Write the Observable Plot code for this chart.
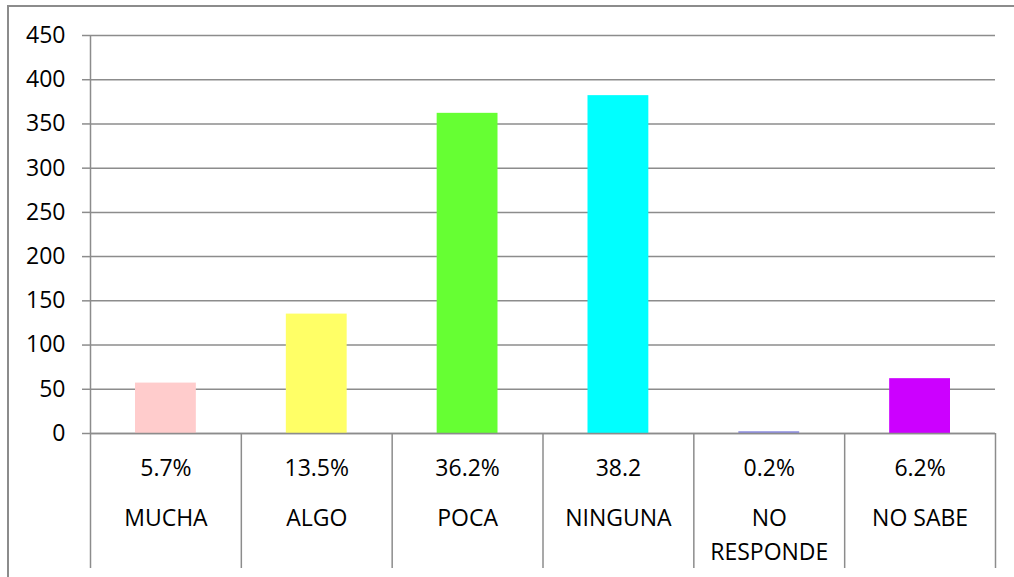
<!DOCTYPE html>
<html>
<head>
<meta charset="utf-8">
<script src="https://cdn.jsdelivr.net/npm/d3@7"></script>
<script src="https://cdn.jsdelivr.net/npm/@observablehq/plot@0.6"></script>
<style>
  html, body { margin: 0; padding: 0; background: #fff; overflow: hidden; }
  #wrap { position: relative; width: 1014px; height: 577px; }
  #frame { position: absolute; left: 7px; top: 5px; width: 1100px; height: 700px; border: 2px solid #8c8c8c; box-sizing: border-box; }
  #chart { position: absolute; left: 0; top: 0; }
</style>
</head>
<body>
<div id="wrap"><div id="frame"></div><div id="chart"></div></div>
<script>
const categories = ["MUCHA", "ALGO", "POCA", "NINGUNA", "NO\nRESPONDE", "NO SABE"];
const values = [57, 135, 362, 382, 2, 62];
const percentLabels = ["5.7%", "13.5%", "36.2%", "38.2", "0.2%", "6.2%"];
const colors = ["#ffcccc", "#ffff66", "#66ff33", "#00ffff", "#8f8fe0", "#cc00ff"];
const yTicks = [0, 50, 100, 150, 200, 250, 300, 350, 400, 450];

const data = categories.map((c, i) => ({i, category: c, value: values[i], pct: percentLabels[i], color: colors[i]}));
const gray = "#8c8c8c";
const font = "'Open Sans', sans-serif";
const fs = 23;

const chart = Plot.plot({
  width: 1014,
  height: 577,
  marginLeft: 90,
  marginRight: 19,
  marginTop: 35,
  marginBottom: 144,
  style: {fontFamily: font, fontSize: fs + "px", color: "#000", background: "transparent"},
  x: {domain: [0, categories.length], axis: null},
  y: {domain: [0, 450], axis: null},
  marks: [
    Plot.gridY(yTicks, {stroke: gray, strokeOpacity: 1, strokeWidth: 1.5}),
    Plot.rectY(data, {x1: d => d.i, x2: d => d.i + 1, y: "value", fill: d => d.color, insetLeft: 45, insetRight: 45}),
    Plot.ruleY([0], {stroke: gray, strokeWidth: 1.5}),
    Plot.ruleX([0], {stroke: gray, strokeWidth: 1.5}),
    Plot.axisY({ticks: yTicks, tickSize: 8, tickPadding: 17, stroke: gray, strokeWidth: 1.5, fontSize: fs, fill: "#000", label: null}),
    Plot.axisX({ticks: d3.range(categories.length + 1), tickSize: 135, tickFormat: () => "", stroke: gray, strokeWidth: 1.5, label: null}),
    Plot.text(data, {x: d => d.i + 0.5, frameAnchor: "bottom", dy: 42, text: "pct", fontSize: fs, fill: "#000"}),
    Plot.text(data, {x: d => d.i + 0.5, frameAnchor: "bottom", dy: 68, lineHeight: 1.48, lineAnchor: "top", text: d => d.category, fontSize: fs, fill: "#000"})
  ]
});
document.getElementById("chart").appendChild(chart);
</script>
</body>
</html>
